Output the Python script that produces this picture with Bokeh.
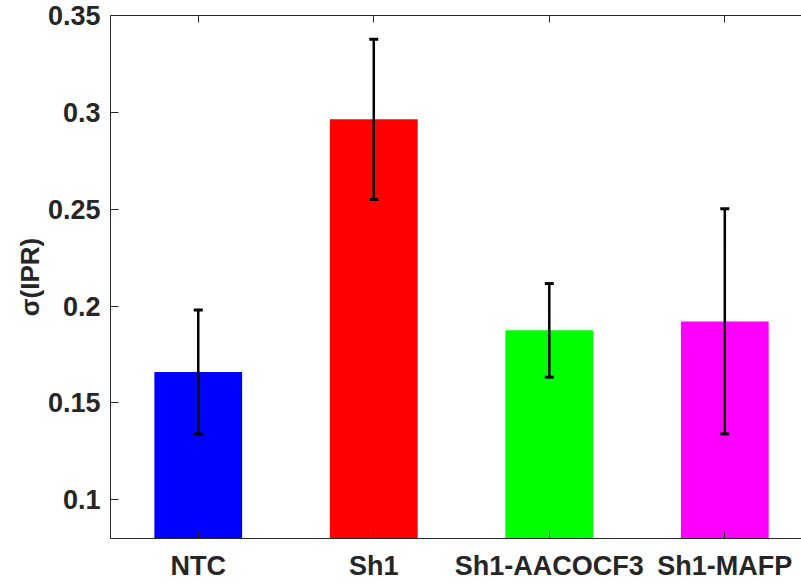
from bokeh.plotting import figure
from bokeh.models import Range1d, FixedTicker, LinearAxis, Whisker, TeeHead, ColumnDataSource, CustomJSTickFormatter
from bokeh.embed import file_html
from bokeh.resources import INLINE

categories = ["NTC", "Sh1", "Sh1-AACOCF3", "Sh1-MAFP"]
positions = [1, 2, 3, 4]
means = [0.166, 0.2965, 0.1875, 0.192]
err_lower = [0.134, 0.255, 0.1633, 0.134]
err_upper = [0.198, 0.3377, 0.2116, 0.2502]
colors = ["#0000FF", "#FF0000", "#00FF00", "#FF00FF"]
y_ticks = [0.1, 0.15, 0.2, 0.25, 0.3, 0.35]

FONT = "Liberation Sans"
TXT = "#262626"

src = ColumnDataSource(dict(x=positions, top=means, lo=err_lower, hi=err_upper, color=colors))

p = figure(width=801, height=583, x_range=Range1d(0.5, 4.437), y_range=Range1d(0.08, 0.35),
           output_backend="svg", toolbar_location=None,
           min_border_left=110, min_border_right=0, min_border_top=15, min_border_bottom=44)
p.outline_line_color = None
p.grid.visible = False
p.background_fill_color = "white"

p.vbar(x="x", top="top", bottom=0, width=0.5, fill_color="color", line_color=None, source=src)

w = Whisker(base="x", lower="lo", upper="hi", source=src, line_color="black", line_width=2.5,
            level="overlay",
            upper_head=TeeHead(size=9, line_width=3, line_color="black"),
            lower_head=TeeHead(size=9, line_width=3, line_color="black"))
p.add_layout(w)

# bottom axis
xa = p.xaxis[0]
xa.ticker = FixedTicker(ticks=positions)
xa.major_label_overrides = {pos: c for pos, c in zip(positions, categories)}
xa.major_tick_in = 7
xa.major_tick_out = 0
xa.minor_tick_line_color = None
xa.axis_line_color = TXT
xa.major_tick_line_color = TXT
xa.major_label_text_font = FONT
xa.major_label_text_font_style = "bold"
xa.major_label_text_font_size = "27px"
xa.major_label_text_color = TXT
xa.major_label_standoff = 12

# left axis
ya = p.yaxis[0]
ya.ticker = FixedTicker(ticks=y_ticks)
ya.formatter = CustomJSTickFormatter(code="return tick.toFixed(2).replace(/0$/, '');")
ya.major_tick_in = 8
ya.major_tick_out = 0
ya.minor_tick_line_color = None
ya.axis_line_color = TXT
ya.major_tick_line_color = TXT
ya.major_label_text_font = FONT
ya.major_label_text_font_style = "bold"
ya.major_label_text_font_size = "27px"
ya.major_label_text_color = TXT
ya.major_label_standoff = 10
ya.axis_label = "σ(IPR)"
ya.axis_label_text_font = FONT
ya.axis_label_text_font_style = "bold"
ya.axis_label_text_font_size = "26px"
ya.axis_label_text_color = TXT
ya.axis_label_standoff = 0

# top axis (box line with ticks)
top = LinearAxis(ticker=FixedTicker(ticks=positions), major_tick_in=7, major_tick_out=0,
                 minor_tick_line_color=None, axis_line_color=TXT, major_tick_line_color=TXT,
                 major_label_text_font_size="0px", major_label_standoff=0)
top.major_label_overrides = {pos: "" for pos in positions}
p.add_layout(top, "above")

open("out.html", "w").write(file_html(p, INLINE))
